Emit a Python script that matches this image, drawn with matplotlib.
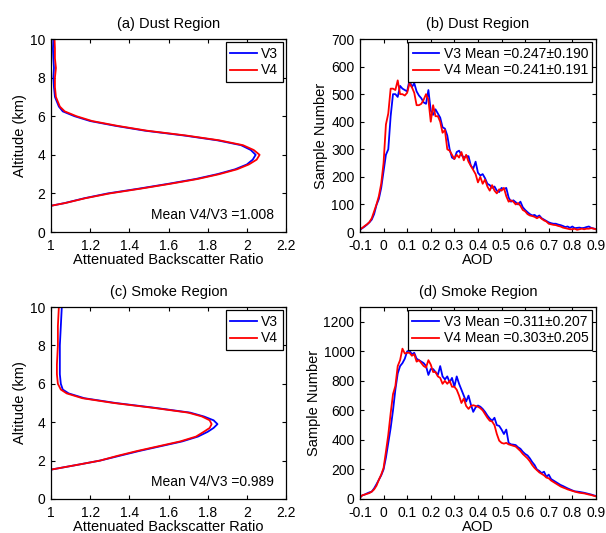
"""CALIPSO V3 vs V4: backscatter profiles and AOD histograms"""

import matplotlib
matplotlib.use('Agg')
import matplotlib.pyplot as plt
import numpy as np

plt.rcParams['font.family'] = ['Liberation Sans', 'DejaVu Sans']
plt.rcParams['font.size'] = 10

# ---- (a) dust profile ----
alt_dust = [1.36, 1.5, 1.75, 2.0, 2.25, 2.5, 2.75, 3.0, 3.25, 3.5, 3.75, 4.0, 4.25, 4.5,
            4.75, 5.0, 5.25, 5.5, 5.75, 6.0, 6.25, 6.5, 6.75, 7.0, 7.5, 8.0, 8.5, 9.0, 9.5, 10.0]
v3_dust_prof = [1.0, 1.07, 1.17, 1.29, 1.45, 1.60, 1.74, 1.85, 1.94, 2.00, 2.03, 2.045, 2.02, 1.97,
                1.85, 1.68, 1.48, 1.33, 1.20, 1.12, 1.06, 1.04, 1.03, 1.02, 1.015, 1.012, 1.015, 1.012, 1.01, 1.012]
v4_dust_prof = [1.0, 1.072, 1.175, 1.30, 1.46, 1.61, 1.75, 1.86, 1.95, 2.01, 2.05, 2.065, 2.035, 1.98,
                1.86, 1.69, 1.49, 1.34, 1.21, 1.13, 1.07, 1.045, 1.035, 1.025, 1.02, 1.02, 1.025, 1.02, 1.02, 1.018]

# ---- (c) smoke profile ----
alt_smoke = [1.53, 1.79, 2.0, 2.25, 2.5, 2.75, 3.0, 3.25, 3.5, 3.7, 3.9, 4.1, 4.3, 4.5,
             4.75, 5.0, 5.25, 5.5, 5.7, 6.0, 6.5, 7.0, 8.0, 9.0, 10.0]
v3_smoke_prof = [1.0, 1.14, 1.25, 1.35, 1.45, 1.56, 1.67, 1.75, 1.80, 1.83, 1.85, 1.83, 1.78, 1.71,
                 1.53, 1.33, 1.17, 1.09, 1.06, 1.05, 1.045, 1.045, 1.045, 1.05, 1.055]
v4_smoke_prof = [1.0, 1.14, 1.25, 1.34, 1.44, 1.55, 1.66, 1.74, 1.78, 1.81, 1.82, 1.81, 1.77, 1.70,
                 1.52, 1.32, 1.16, 1.08, 1.05, 1.035, 1.03, 1.03, 1.035, 1.035, 1.04]

# ---- AOD bins (-0.1 .. 0.9, step 0.01) ----
aod = np.round(np.arange(-0.1, 0.9001, 0.01), 2)

v3_dust_hist = [8, 14, 20, 27, 35, 45, 65, 98, 120, 160,
                220, 280, 300, 420, 500, 500, 490, 530, 520, 515,
                510, 552, 525, 540, 510, 495, 485, 470, 465, 515,
                440, 425, 445, 430, 415, 380, 375, 350, 300, 270,
                265, 290, 295, 280, 270, 275, 275, 240, 230, 255,
                215, 205, 210, 195, 175, 170, 160, 165, 150, 145,
                160, 155, 160, 125, 110, 115, 108, 100, 110, 90,
                80, 72, 65, 60, 62, 55, 60, 50, 45, 40,
                35, 32, 30, 30, 27, 25, 22, 18, 20, 15,
                20, 14, 15, 16, 14, 15, 18, 20, 15, 13, 10]
v4_dust_hist = [10, 15, 22, 28, 36, 50, 75, 100, 130, 175,
                250, 390, 430, 520, 520, 515, 550, 500, 500, 495,
                505, 540, 525, 505, 460, 460, 465, 480, 500, 480,
                400, 460, 420, 420, 400, 360, 370, 300, 295, 280,
                265, 280, 270, 290, 260, 280, 255, 240, 225, 210,
                180, 200, 175, 190, 165, 150, 170, 150, 140, 155,
                150, 160, 130, 110, 115, 110, 100, 105, 95, 80,
                75, 65, 60, 58, 55, 50, 55, 48, 42, 38,
                30, 28, 26, 25, 22, 20, 16, 14, 12, 10,
                10, 12, 8, 10, 12, 10, 12, 12, 14, 12, 10]

v3_smoke_hist = [10, 25, 30, 38, 45, 50, 72, 100, 130, 160,
                 200, 280, 380, 480, 600, 740, 850, 900, 920, 950,
                 1000, 1005, 980, 990, 950, 940, 930, 920, 900, 840,
                 880, 880, 860, 840, 900, 830, 810, 830, 790, 820,
                 760, 830, 780, 740, 700, 660, 700, 640, 590, 620,
                 633, 625, 610, 590, 565, 545, 530, 550, 500, 495,
                 470, 440, 470, 380, 370, 368, 365, 350, 340, 320,
                 305, 295, 275, 250, 230, 200, 190, 175, 185, 150,
                 165, 135, 125, 115, 105, 95, 88, 80, 72, 65,
                 58, 52, 50, 48, 45, 42, 38, 34, 30, 25, 20]
v4_smoke_hist = [10, 25, 30, 35, 40, 50, 65, 90, 130, 165,
                 210, 320, 435, 580, 710, 765, 900, 940, 1018, 985,
                 990, 990, 970, 980, 930, 940, 920, 900, 890, 940,
                 910, 860, 860, 830, 820, 780, 800, 780, 800, 760,
                 760, 740, 700, 650, 680, 630, 610, 630, 635, 630,
                 625, 615, 600, 575, 550, 530, 525, 500, 440, 395,
                 380, 375, 380, 370, 365, 360, 355, 340, 325, 305,
                 290, 275, 255, 230, 210, 195, 180, 170, 160, 145,
                 140, 125, 115, 105, 95, 85, 78, 72, 65, 60,
                 55, 50, 46, 42, 40, 38, 34, 30, 27, 22, 18]

prof_ticks = [1, 1.2, 1.4, 1.6, 1.8, 2, 2.2]
prof_labels = ['1', '1.2', '1.4', '1.6', '1.8', '2', '2.2']
aod_ticks = [-0.1, 0, 0.1, 0.2, 0.3, 0.4, 0.5, 0.6, 0.7, 0.8, 0.9]
aod_labels = ['-0.1', '0', '0.1', '0.2', '0.3', '0.4', '0.5', '0.6', '0.7', '0.8', '0.9']

fig = plt.figure(figsize=(6.06, 5.33), dpi=100)
ax_a = fig.add_axes([0.0842, 0.5647, 0.3878, 0.3621])
ax_b = fig.add_axes([0.594, 0.5647, 0.3894, 0.3621])
ax_c = fig.add_axes([0.0842, 0.0638, 0.3878, 0.3602])
ax_d = fig.add_axes([0.594, 0.0638, 0.3894, 0.3602])


def matlab_box(ax):
    ax.tick_params(direction='in', top=True, right=True, length=3, width=0.8,
                   labelsize=10, colors='black')
    ax.tick_params(axis='x', pad=5)
    ax.tick_params(axis='y', pad=4)
    for s in ax.spines.values():
        s.set_linewidth(0.9)
        s.set_color('black')


def legend_box(ax):
    leg = ax.legend(loc='upper right', fontsize=10, fancybox=False, framealpha=1,
                    edgecolor='black', handlelength=1.9, borderaxespad=0.25,
                    borderpad=0.3, labelspacing=0.2, handletextpad=0.35)
    leg.get_frame().set_linewidth(0.9)


# profiles
for ax, alt, v3, v4, title, ratio in [
        (ax_a, alt_dust, v3_dust_prof, v4_dust_prof, '(a) Dust Region', 'Mean V4/V3 =1.008'),
        (ax_c, alt_smoke, v3_smoke_prof, v4_smoke_prof, '(c) Smoke Region', 'Mean V4/V3 =0.989')]:
    ax.plot(v3, alt, color='blue', lw=1.3, label='V3')
    ax.plot(v4, alt, color='red', lw=1.3, label='V4')
    ax.set_xlim(1, 2.2)
    ax.set_ylim(0, 10)
    ax.set_xticks(prof_ticks)
    ax.set_xticklabels(prof_labels)
    ax.set_yticks([0, 2, 4, 6, 8, 10])
    ax.set_title(title, fontsize=10.5, pad=8)
    ax.set_xlabel('Attenuated Backscatter Ratio', fontsize=10.5, labelpad=0)
    ax.set_ylabel('Altitude (km)', fontsize=10.5, labelpad=2)
    ax.text(0.95, 0.09, ratio, transform=ax.transAxes, ha='right', va='center', fontsize=10)
    legend_box(ax)
    matlab_box(ax)

# histograms
for ax, v3, v4, ymax, yt, title, l3, l4 in [
        (ax_b, v3_dust_hist, v4_dust_hist, 700, range(0, 701, 100), '(b) Dust Region',
         'V3 Mean =0.247±0.190', 'V4 Mean =0.241±0.191'),
        (ax_d, v3_smoke_hist, v4_smoke_hist, 1300, range(0, 1201, 200), '(d) Smoke Region',
         'V3 Mean =0.311±0.207', 'V4 Mean =0.303±0.205')]:
    ax.plot(aod, v3, color='blue', lw=1.3, label=l3)
    ax.plot(aod, v4, color='red', lw=1.3, label=l4)
    ax.set_xlim(-0.1, 0.9)
    ax.set_ylim(0, ymax)
    ax.set_xticks(aod_ticks)
    ax.set_xticklabels(aod_labels)
    ax.set_yticks(list(yt))
    ax.set_title(title, fontsize=10.5, pad=8)
    ax.set_xlabel('AOD', fontsize=10.5, labelpad=0)
    ax.set_ylabel('Sample Number', fontsize=10.5, labelpad=2)
    legend_box(ax)
    matlab_box(ax)

fig.savefig('out.png', dpi=100)
